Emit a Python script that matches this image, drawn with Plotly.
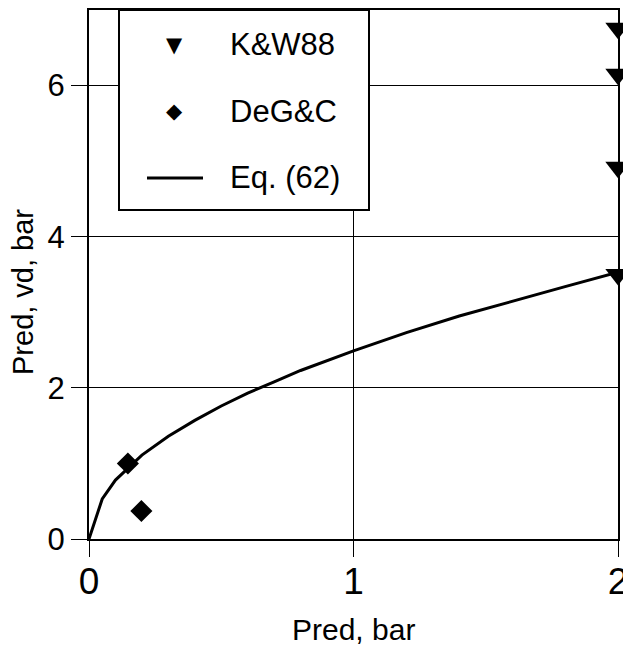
import plotly.graph_objects as go

# ---- data ----
kw_x = [2, 2, 2, 2]
kw_y = [6.76, 6.15, 4.92, 3.50]
dg_x = [0.147, 0.198]
dg_y = [1.00, 0.37]
eq_x = [0, 0.05, 0.1, 0.2, 0.3, 0.4, 0.5, 0.6, 0.7, 0.8, 1.0, 1.2, 1.4, 1.6, 1.8, 2.0]
eq_y = [0, 0.53, 0.78, 1.11, 1.36, 1.57, 1.76, 1.93, 2.08, 2.23, 2.49, 2.73, 2.95, 3.15, 3.34, 3.53]
x_ticks = [0, 1, 2]
y_ticks = [0, 2, 4, 6]
series_names = ["K&W88", "DeG&C", "Eq. (62)"]
x_title = "Pred, bar"
y_title = "Pred, vd, bar"

W, H = 623, 648
L, R, T, B = 89, 5, 10, 109
FONT = "Arial, Liberation Sans, sans-serif"


def px(p):
    return (p - L) / (W - L - R)


def py(p):
    return 1 - (p - T) / (H - T - B)


fig = go.Figure()
fig.add_trace(go.Scatter(x=eq_x, y=eq_y, mode="lines", name=series_names[2],
                         line=dict(color="black", width=3), showlegend=False,
                         cliponaxis=False))
fig.add_trace(go.Scatter(x=kw_x, y=kw_y, mode="markers", name=series_names[0],
                         marker=dict(symbol="triangle-down", size=22, color="black"),
                         showlegend=False, cliponaxis=False))
fig.add_trace(go.Scatter(x=dg_x, y=dg_y, mode="markers", name=series_names[1],
                         marker=dict(symbol="diamond", size=17, color="black"),
                         showlegend=False, cliponaxis=False))

axis_common = dict(showline=True, linecolor="black", linewidth=2, mirror=True,
                   showgrid=True, gridcolor="black", gridwidth=1, zeroline=False,
                   ticks="outside", ticklen=16, tickwidth=1, tickcolor="black",
                   ticklabeloverflow="allow", automargin=False)

fig.update_xaxes(range=[0, 2], tickmode="array", tickvals=x_ticks,
                 tickfont=dict(family=FONT, size=37, color="black"),
                 ticklabelstandoff=-7, **axis_common)
fig.update_yaxes(range=[0, 7], tickmode="array", tickvals=y_ticks,
                 tickfont=dict(family=FONT, size=31, color="black"),
                 ticklabelstandoff=0, **axis_common)

# legend box (drawn manually to match the reference layout)
shapes = [
    dict(type="rect", xref="paper", yref="paper", x0=px(119), x1=px(369),
         y0=py(210), y1=py(10), fillcolor="white", line=dict(color="black", width=2),
         layer="above"),
    dict(type="line", xref="paper", yref="paper", x0=px(147), x1=px(203),
         y0=py(178), y1=py(178), line=dict(color="black", width=3), layer="above"),
]

annotations = []
sym = ["\u25BC", "\u25C6"]
rows_y = [45, 111, 178]
for i, name in enumerate(series_names):
    annotations.append(dict(xref="paper", yref="paper", x=px(228), y=py(rows_y[i]),
                            xanchor="left", yanchor="middle", text=name, showarrow=False,
                            font=dict(family=FONT, size=31, color="black")))
for i, s in enumerate(sym):
    annotations.append(dict(xref="paper", yref="paper", x=px(174), y=py(rows_y[i]),
                            xanchor="center", yanchor="middle", text=s, showarrow=False,
                            font=dict(family="DejaVu Sans", size=21, color="black")))

annotations.append(dict(xref="paper", yref="paper", x=px(353.5), y=py(629),
                        xanchor="center", yanchor="middle", text=x_title, showarrow=False,
                        font=dict(family=FONT, size=30, color="black")))
annotations.append(dict(xref="paper", yref="paper", x=px(23), y=py(292),
                        xanchor="center", yanchor="middle", text=y_title, showarrow=False,
                        textangle=-90, font=dict(family=FONT, size=29, color="black")))

fig.update_layout(width=W, height=H, margin=dict(l=L, r=R, t=T, b=B, autoexpand=False),
                  paper_bgcolor="white", plot_bgcolor="white",
                  shapes=shapes, annotations=annotations, showlegend=False,
                  font=dict(family=FONT, color="black"))

fig.write_html("out.html")
